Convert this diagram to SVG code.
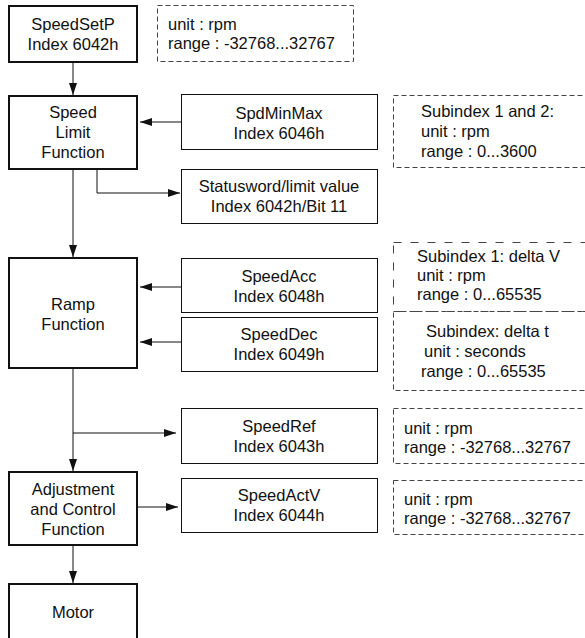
<svg xmlns="http://www.w3.org/2000/svg" width="585" height="638" viewBox="0 0 585 638">
<style>
text{font-family:"Liberation Sans",Arial,sans-serif;font-size:16.5px;fill:#111}
.c{text-anchor:middle}
.thick{fill:#fff;stroke:#111;stroke-width:2}
.thin{fill:#fff;stroke:#111;stroke-width:1}
.note{fill:none;stroke:#444;stroke-width:1;stroke-dasharray:5,3}
.noteL{fill:none;stroke:#444;stroke-width:1;stroke-dasharray:8,9}
.conn{fill:none;stroke:#111;stroke-width:1;marker-end:url(#ah)}
</style>
<defs>
<marker id="ah" viewBox="0 0 12 8" refX="12" refY="4" markerWidth="12" markerHeight="8" orient="auto" markerUnits="userSpaceOnUse"><path d="M0,0 L12,4 L0,8 z" fill="#111"/></marker>
</defs>
<rect width="585" height="638" fill="#fff"/>
<g id="connectors">
<path class="conn" d="M73,62 V95"/>
<path class="conn" d="M181,122 H140"/>
<path class="conn" d="M97,169 V193 H180"/>
<path class="conn" d="M73,169 V257"/>
<path class="conn" d="M181,287 H140"/>
<path class="conn" d="M181,342 H140"/>
<path class="conn" d="M73,368 V471"/>
<path class="conn" d="M73,433 H176"/>
<path class="conn" d="M137,507 H178"/>
<path class="conn" d="M73,545 V583"/>
</g>
<g id="speedsetp"><rect class="thick" x="9" y="6" width="128" height="56"/><text class="c" x="73" y="30">SpeedSetP</text><text class="c" x="73" y="50">Index 6042h</text></g>
<g id="note1"><rect class="note" x="157.5" y="5.5" width="196" height="56"/><text x="168" y="30">unit : rpm</text><text x="168" y="49">range : -32768...32767</text></g>
<g id="speedlimit"><rect class="thick" x="9" y="96" width="128" height="73"/><text class="c" x="73" y="118">Speed</text><text class="c" x="73" y="138">Limit</text><text class="c" x="73" y="158">Function</text></g>
<g id="spdminmax"><rect class="thin" x="181.5" y="94.5" width="196" height="55"/><text class="c" x="279" y="119">SpdMinMax</text><text class="c" x="279" y="139">Index 6046h</text></g>
<g id="note2"><rect class="note" x="393.5" y="95.5" width="200" height="72"/><text x="421" y="117">Subindex 1 and 2:</text><text x="421" y="137">unit : rpm</text><text x="421" y="157">range : 0...3600</text></g>
<g id="statusword"><rect class="thin" x="181.5" y="169.5" width="196" height="54"/><text class="c" x="279" y="192">Statusword/limit value</text><text class="c" x="279" y="212">Index 6042h/Bit 11</text></g>
<g id="ramp"><rect class="thick" x="9" y="258" width="128" height="110"/><text class="c" x="73" y="310">Ramp</text><text class="c" x="73" y="330">Function</text></g>
<g id="speedacc"><rect class="thin" x="181.5" y="258.5" width="196" height="54"/><text class="c" x="279" y="282">SpeedAcc</text><text class="c" x="279" y="302">Index 6048h</text></g>
<g id="speeddec"><rect class="thin" x="181.5" y="317.5" width="196" height="54"/><text class="c" x="279" y="340">SpeedDec</text><text class="c" x="279" y="360">Index 6049h</text></g>
<g id="note3"><rect class="noteL" x="393.5" y="242.5" width="200" height="69"/><text x="417" y="262">Subindex 1: delta V</text><text x="417" y="281">unit : rpm</text><text x="417" y="300">range : 0...65535</text></g>
<g id="note4"><rect class="note" x="393.5" y="311.5" width="200" height="79"/><text x="426" y="337">Subindex: delta t</text><text x="424" y="357">unit : seconds</text><text x="421" y="377">range : 0...65535</text></g>
<g id="speedref"><rect class="thin" x="181.5" y="408.5" width="196" height="55"/><text class="c" x="279" y="432">SpeedRef</text><text class="c" x="279" y="452">Index 6043h</text></g>
<g id="note5"><rect class="note" x="393.5" y="408.5" width="200" height="55"/><text x="404" y="434">unit : rpm</text><text x="404" y="453">range : -32768...32767</text></g>
<g id="adjust"><rect class="thick" x="9" y="472" width="128" height="73"/><text class="c" x="73" y="495">Adjustment</text><text class="c" x="73" y="515">and Control</text><text class="c" x="73" y="535">Function</text></g>
<g id="speedactv"><rect class="thin" x="181.5" y="478.5" width="196" height="54"/><text class="c" x="279" y="501">SpeedActV</text><text class="c" x="279" y="521">Index 6044h</text></g>
<g id="note6"><rect class="note" x="393.5" y="480.5" width="200" height="54"/><text x="404" y="505">unit : rpm</text><text x="404" y="524">range : -32768...32767</text></g>
<g id="motor"><rect class="thick" x="9" y="584" width="128" height="70"/><text class="c" x="73" y="618">Motor</text></g>
</svg>
